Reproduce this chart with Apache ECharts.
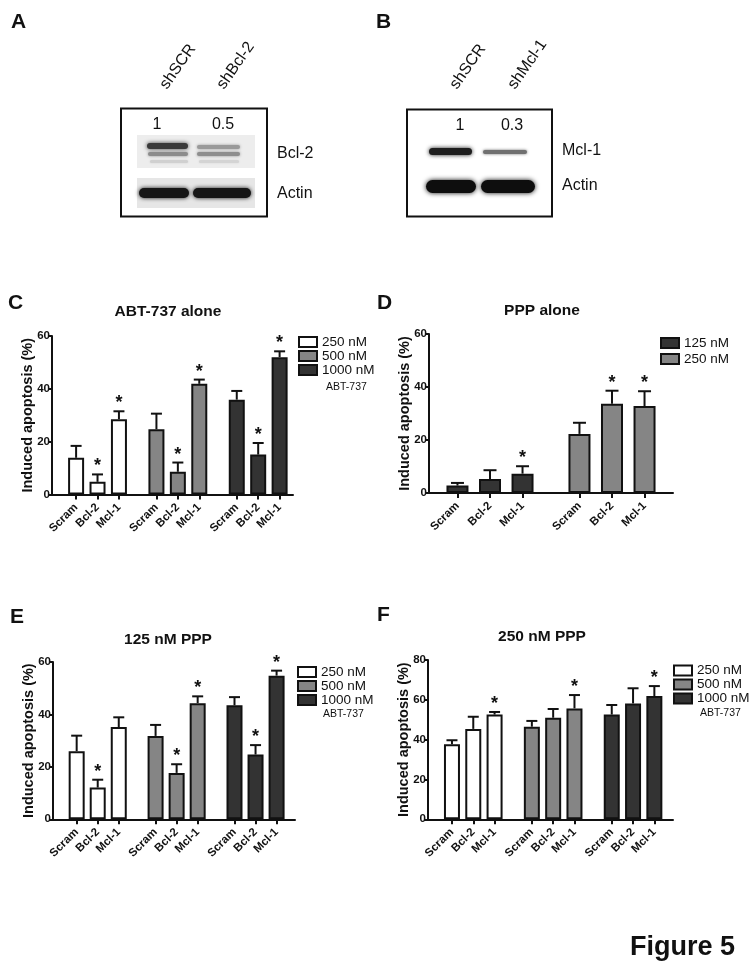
<!DOCTYPE html>
<html><head><meta charset="utf-8">
<script src="https://cdn.jsdelivr.net/npm/echarts@6/dist/echarts.min.js"></script>
<style>html,body{margin:0;padding:0;background:#fff}#c{width:756px;height:973px}</style>
</head><body><div id="c"></div>
<script>
// ---------------- DATA ----------------
const barLabels = ['Scram', 'Bcl-2', 'Mcl-1'];
const abtDoses = ['250 nM', '500 nM', '1000 nM'];
const pppDoses = ['125 nM', '250 nM'];
const doseNote = 'ABT-737';

// C: ABT-737 alone (groups = ABT-737 dose; bars = Scram, Bcl-2, Mcl-1)
const cMean = [[13.9, 4.8, 28.5], [24.7, 8.6, 41.9], [35.9, 15.1, 52.0]];
const cSem  = [[4.5, 2.8, 3.0], [5.9, 3.5, 1.6], [3.3, 4.4, 2.2]];
const cSig  = [[0, 1, 1], [0, 1, 1], [0, 1, 1]];
// D: PPP alone
const dMean = [[2.8, 5.3, 7.3], [22.3, 33.7, 32.8]];
const dSem  = [[1.0, 3.3, 2.8], [4.2, 4.9, 5.6]];
const dSig  = [[0, 0, 1], [0, 1, 1]];
// E: 125 nM PPP
const eMean = [[26.0, 12.1, 35.2], [31.8, 17.7, 44.3], [43.5, 24.7, 54.8]];
const eSem  = [[5.9, 3.0, 3.7], [4.2, 3.3, 2.6], [3.1, 3.6, 1.9]];
const eSig  = [[0, 1, 0], [0, 1, 1], [0, 1, 1]];
// F: 250 nM PPP
const fMean = [[37.7, 45.4, 52.6], [46.5, 51.0, 55.7], [52.6, 58.2, 61.9]];
const fSem  = [[2.0, 6.1, 1.3], [2.9, 4.4, 6.7], [4.8, 7.6, 5.0]];
const fSig  = [[0, 0, 1], [0, 0, 1], [0, 0, 1]];

// Western blots
const blotALanes = ['shSCR', 'shBcl-2'];
const blotARatios = ['1', '0.5'];
const blotAProteins = ['Bcl-2', 'Actin'];
const blotBLanes = ['shSCR', 'shMcl-1'];
const blotBRatios = ['1', '0.3'];
const blotBProteins = ['Mcl-1', 'Actin'];

// ---------------- STYLE / LAYOUT ----------------
const FONT = '"Liberation Sans", Arial, Helvetica, sans-serif';
const WHITE = '#ffffff', GRAY = '#858585', DARK = '#333333';

const panels = [
  { id: 'C', title: 'ABT-737 alone', names: abtDoses, mean: cMean, sem: cSem, sig: cSig,
    colors: [WHITE, GRAY, DARK], ymax: 60,
    grid: { left: 52, top: 336, width: 241, height: 158.5 },
    n: 45, pad: 4, step: 4, stride: 15, barW: 16, cap: 11,
    titlePos: [168, 304], legend: { left: 298, top: 335, gap: 0 }, note: [326, 387] },
  { id: 'D', title: 'PPP alone', names: pppDoses, mean: dMean, sem: dSem, sig: dSig,
    colors: [DARK, GRAY], ymax: 60,
    grid: { left: 429, top: 334, width: 244, height: 159 },
    n: 30, pad: 3, step: 4, stride: 15, barW: 22, cap: 13,
    titlePos: [542, 303], legend: { left: 660, top: 336, gap: 2 }, note: null },
  { id: 'E', title: '125 nM PPP', names: abtDoses, mean: eMean, sem: eSem, sig: eSig,
    colors: [WHITE, GRAY, DARK], ymax: 60,
    grid: { left: 53, top: 662, width: 242, height: 157.3 },
    n: 46, pad: 4, step: 4, stride: 15, barW: 16, cap: 11,
    titlePos: [168, 632], legend: { left: 297, top: 665, gap: 0 }, note: [323, 714] },
  { id: 'F', title: '250 nM PPP', names: abtDoses, mean: fMean, sem: fSem, sig: fSig,
    colors: [WHITE, GRAY, DARK], ymax: 80,
    grid: { left: 428, top: 660, width: 245, height: 159.3 },
    n: 46, pad: 4, step: 4, stride: 15, barW: 16, cap: 11,
    titlePos: [542, 629], legend: { left: 673, top: 663.5, gap: 0 }, note: [700, 713] }
];

const option = {
  backgroundColor: '#ffffff',
  animation: false,
  title: [], grid: [], xAxis: [], yAxis: [], legend: [], series: [], graphic: []
};

panels.forEach((p, pi) => {
  const cats = [];
  for (let i = 0; i < p.n; i++) cats.push('sp' + i);
  const errData = [];
  p.mean.forEach((grp, g) => {
    grp.forEach((v, b) => {
      const k = p.pad + g * p.stride + b * p.step;
      cats[k] = g + '|' + barLabels[b];
    });
  });
  option.title.push({
    text: p.title, left: p.titlePos[0], top: p.titlePos[1], textAlign: 'center', padding: 0,
    textStyle: { fontFamily: FONT, fontSize: 15.5, fontWeight: 'bold', color: '#111' }
  });
  option.grid.push(Object.assign({ containLabel: false }, p.grid));
  const isBar = (i, v) => String(v).indexOf('|') >= 0;
  option.xAxis.push({
    type: 'category', gridIndex: pi, data: cats, boundaryGap: true,
    axisLine: { show: true, lineStyle: { color: '#111', width: 2 } },
    axisTick: { show: true, interval: isBar, alignWithLabel: true, length: 5, lineStyle: { color: '#111', width: 2 } },
    axisLabel: { show: true, interval: isBar, rotate: 45, margin: 11,
      formatter: v => String(v).split('|')[1] || '',
      fontFamily: FONT, fontSize: 11.5, fontWeight: 'bold', color: '#111' },
    splitLine: { show: false }
  });
  option.yAxis.push({
    type: 'value', gridIndex: pi, min: 0, max: p.ymax, interval: 20,
    name: 'Induced apoptosis (%)', nameLocation: 'middle', nameGap: 17, nameMoveOverlap: false,
    nameTextStyle: { fontFamily: FONT, fontSize: 14.5, fontWeight: 'bold', color: '#111' },
    axisLine: { show: true, lineStyle: { color: '#111', width: 2 } },
    axisTick: { show: true, length: 4, lineStyle: { color: '#111', width: 2 } },
    axisLabel: { margin: 2, fontFamily: FONT, fontSize: 11.5, fontWeight: 'bold', color: '#111' },
    splitLine: { show: false }
  });
  const legendNames = [];
  p.mean.forEach((grp, g) => {
    const arr = new Array(p.n).fill(null);
    grp.forEach((v, b) => {
      const k = p.pad + g * p.stride + b * p.step;
      arr[k] = v;
      errData.push([k, v, p.sem[g][b], p.sig[g][b]]);
    });
    const nm = p.id + ':' + p.names[g];
    legendNames.push(nm);
    option.series.push({
      type: 'bar', name: nm, xAxisIndex: pi, yAxisIndex: pi, data: arr,
      barWidth: p.barW, barGap: '-100%',
      itemStyle: { color: p.colors[g], borderColor: '#111', borderWidth: 2 },
      z: 2
    });
  });
  option.series.push({
    type: 'custom', xAxisIndex: pi, yAxisIndex: pi, data: errData, z: 5, clip: false,
    renderItem: (params, api) => {
      const x = api.value(0), m = api.value(1), e = api.value(2), s = api.value(3);
      const p0 = api.coord([x, m]);
      const p1 = api.coord([x, m + e]);
      const ch = [
        { type: 'line', shape: { x1: p0[0], y1: p0[1], x2: p1[0], y2: p1[1] }, style: { stroke: '#111', lineWidth: 2 } },
        { type: 'line', shape: { x1: p1[0] - p.cap / 2, y1: p1[1], x2: p1[0] + p.cap / 2, y2: p1[1] }, style: { stroke: '#111', lineWidth: 2 } }
      ];
      if (s) ch.push({ type: 'text', style: { text: '*', x: p1[0], y: p1[1] + 1, textAlign: 'center', textVerticalAlign: 'bottom',
        fontFamily: FONT, fontSize: 18, fontWeight: 'bold', fill: '#111' } });
      return { type: 'group', children: ch };
    }
  });
  option.legend.push({
    data: legendNames, left: p.legend.left, top: p.legend.top, orient: 'vertical',
    itemWidth: 18, itemHeight: 10, itemGap: p.legend.gap, padding: 0, selectedMode: false,
    icon: 'rect',
    itemStyle: { borderColor: '#111', borderWidth: 2 },
    formatter: name => name.split(':')[1],
    textStyle: { fontFamily: FONT, fontSize: 13.5, color: '#111', lineHeight: 13 }
  });
  if (p.note) option.graphic.push({ type: 'text', x: p.note[0], y: p.note[1],
    style: { text: doseNote, fontFamily: FONT, fontSize: 10.5, fill: '#111', textVerticalAlign: 'middle' } });
});

// Panel letters + figure label
const letters = [['A', 11, 22], ['B', 376, 22], ['C', 8, 303], ['D', 377, 303], ['E', 10, 617], ['F', 377, 615]];
letters.forEach(l => option.graphic.push({ type: 'text', x: l[1], y: l[2],
  style: { text: l[0], fontFamily: FONT, fontSize: 21, fontWeight: 'bold', fill: '#111', textVerticalAlign: 'middle' } }));
option.graphic.push({ type: 'text', x: 735, y: 948,
  style: { text: 'Figure 5', fontFamily: FONT, fontSize: 27, fontWeight: 'bold', fill: '#111', textAlign: 'right', textVerticalAlign: 'middle' } });

// Western blot drawings (images)
function band(x, y, w, h, fill, blur) {
  return { type: 'rect', shape: { x: x, y: y, width: w, height: h, r: h / 2 },
    style: { fill: fill, shadowBlur: blur, shadowColor: fill } };
}
function txt(t, x, y, align, size) {
  return { type: 'text', x: x, y: y, style: { text: t, fontFamily: FONT, fontSize: size || 16, fill: '#111',
    textAlign: align || 'left', textVerticalAlign: 'middle' } };
}
function lane(t, x, y) {
  return { type: 'text', x: x, y: y, rotation: 55 * Math.PI / 180,
    style: { text: t, fontFamily: FONT, fontSize: 16, fill: '#111', textAlign: 'left', textVerticalAlign: 'bottom' } };
}
const blotEls = [
  // Panel A
  { type: 'rect', shape: { x: 137, y: 135, width: 118, height: 33 }, style: { fill: '#ededed' } },
  { type: 'rect', shape: { x: 137, y: 178, width: 118, height: 30 }, style: { fill: '#e6e6e6' } },
  band(147, 143, 41, 6, '#3a3a3a', 4), band(148, 152, 40, 4, '#8c8c8c', 3), band(150, 160, 38, 3, '#d0d0d0', 2),
  band(197, 145, 43, 4, '#9a9a9a', 3), band(197, 152, 43, 4, '#8e8e8e', 3), band(199, 160, 40, 3, '#d4d4d4', 2),
  band(139, 188, 50, 10, '#161616', 4), band(193, 188, 58, 10, '#161616', 4),
  { type: 'rect', shape: { x: 121, y: 108.5, width: 146, height: 108 }, style: { fill: 'none', stroke: '#111', lineWidth: 2 } },
  txt(blotARatios[0], 157, 125, 'center'), txt(blotARatios[1], 223, 125, 'center'),
  txt(blotAProteins[0], 277, 154), txt(blotAProteins[1], 277, 194),
  lane(blotALanes[0], 170, 92), lane(blotALanes[1], 227, 92),
  // Panel B
  band(429, 148, 43, 7, '#1e1e1e', 4), band(483, 150, 44, 4, '#707070', 3),
  band(426, 180, 50, 13, '#0e0e0e', 5), band(481, 180, 54, 13, '#0e0e0e', 5),
  { type: 'rect', shape: { x: 407, y: 109.5, width: 145, height: 107 }, style: { fill: 'none', stroke: '#111', lineWidth: 2 } },
  txt(blotBRatios[0], 460, 126, 'center'), txt(blotBRatios[1], 512, 126, 'center'),
  txt(blotBProteins[0], 562, 151), txt(blotBProteins[1], 562, 186),
  lane(blotBLanes[0], 460, 92), lane(blotBLanes[1], 518, 92)
];
option.graphic = option.graphic.concat(blotEls);

const chart = echarts.init(document.getElementById('c'), null, { renderer: 'canvas' });
chart.setOption(option);
</script>
</body></html>
